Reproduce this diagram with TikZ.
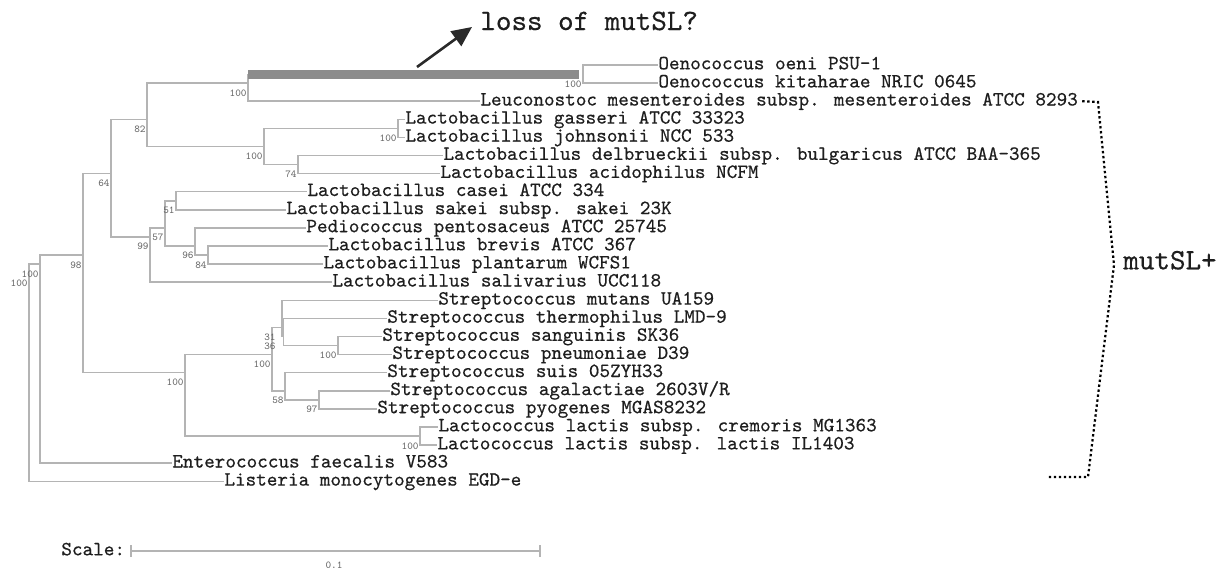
\documentclass[tikz,border=0pt]{standalone}
\usepackage{fontspec}
\newfontfamily\courfont{lmmono10-regular.otf}[FakeBold=0.5]
\usetikzlibrary{arrows.meta}
\definecolor{branch}{HTML}{B4B4B4}
\definecolor{leaftext}{HTML}{1E1E1E}
\definecolor{bootc}{HTML}{6A6A6A}
\definecolor{barc}{HTML}{8C8C8C}
\definecolor{arrowc}{HTML}{2A2A2A}
\tikzset{
  br/.style={draw=branch, line width=0.75pt},
  gbar/.style={draw=barc, line width=4.5pt},
  leaf/.style={anchor=mid west, inner sep=0pt, text=leaftext, font=\courfont\fontsize{10.1}{11}\selectfont},
  boot/.style={anchor=north east, inner sep=0pt, text=bootc, font=\ttfamily\fontsize{5.3}{6}\selectfont},
  bigtxt/.style={inner sep=0pt, text=leaftext, font=\courfont\fontsize{14.8}{16}\selectfont},
  bracketline/.style={draw=black, line width=1.1pt, dash pattern=on 1.2pt off 1.3pt},
}
\begin{document}
\begin{tikzpicture}[x=0.5pt, y=-0.5pt]
\useasboundingbox (0,0) rectangle (1228,568);
% ---------- leaves ----------
\node[leaf] (l0)  at (658,65.0)  {Oenococcus oeni PSU-1};
\node[leaf] (l1)  at (658,83.1)  {Oenococcus kitaharae NRIC 0645};
\node[leaf] (l2)  at (480,101.2) {Leuconostoc mesenteroides subsp. mesenteroides ATCC 8293};
\node[leaf] (l3)  at (405,119.3) {Lactobacillus gasseri ATCC 33323};
\node[leaf] (l4)  at (405,137.4) {Lactobacillus johnsonii NCC 533};
\node[leaf] (l5)  at (443,155.5) {Lactobacillus delbrueckii subsp. bulgaricus ATCC BAA-365};
\node[leaf] (l6)  at (440,173.6) {Lactobacillus acidophilus NCFM};
\node[leaf] (l7)  at (307,191.7) {Lactobacillus casei ATCC 334};
\node[leaf] (l8)  at (286,209.8) {Lactobacillus sakei subsp. sakei 23K};
\node[leaf] (l9)  at (306,227.9) {Pediococcus pentosaceus ATCC 25745};
\node[leaf] (l10) at (328,246.0) {Lactobacillus brevis ATCC 367};
\node[leaf] (l11) at (323,264.1) {Lactobacillus plantarum WCFS1};
\node[leaf] (l12) at (332,282.2) {Lactobacillus salivarius UCC118};
\node[leaf] (l13) at (438,300.3) {Streptococcus mutans UA159};
\node[leaf] (l14) at (387,318.4) {Streptococcus thermophilus LMD-9};
\node[leaf] (l15) at (382,336.5) {Streptococcus sanguinis SK36};
\node[leaf] (l16) at (392,354.6) {Streptococcus pneumoniae D39};
\node[leaf] (l17) at (387,372.7) {Streptococcus suis 05ZYH33};
\node[leaf] (l18) at (390,390.8) {Streptococcus agalactiae 2603V/R};
\node[leaf] (l19) at (377,408.9) {Streptococcus pyogenes MGAS8232};
\node[leaf] (l20) at (438,427.0) {Lactococcus lactis subsp. cremoris MG1363};
\node[leaf] (l21) at (437,445.1) {Lactococcus lactis subsp. lactis IL1403};
\node[leaf] (l22) at (172,463.2) {Enterococcus faecalis V583};
\node[leaf] (l23) at (224,481.3) {Listeria monocytogenes EGD-e};
% ---------- internal nodes ----------
\coordinate (oen) at (583,74.05);
\coordinate (G) at (248,83.1);
\coordinate (I) at (398,128.35);
\coordinate (J) at (298,164.55);
\coordinate (H) at (264,146.45);
\coordinate (E) at (147,119.3);
\coordinate (L) at (176,200.75);
\coordinate (N) at (208,255.05);
\coordinate (M) at (195,246.0);
\coordinate (K) at (165,227.9);
\coordinate (F) at (150,236.95);
\coordinate (C) at (111,173.6);
\coordinate (S) at (338,345.55);
\coordinate (Q2) at (283.5,336.5);
\coordinate (Q1) at (282,327.45);
\coordinate (T) at (319,399.85);
\coordinate (R) at (285,390.8);
\coordinate (O) at (272,354.6);
\coordinate (P) at (420,436.05);
\coordinate (D) at (185,372.7);
\coordinate (B) at (83,255.05);
\coordinate (A) at (40,264.1);
\coordinate (root) at (29,273.15);
% ---------- branches ----------
\draw[br] (oen) |- (l0.mid west);
\draw[br] (oen) |- (l1.mid west);
\draw[br] (G) -- (G |- oen);
\draw[gbar] (G |- oen) -- ([xshift=-2pt]oen);
\draw[br] (G) |- (l2.mid west);
\draw[br] (I) |- (l3.mid west);
\draw[br] (I) |- (l4.mid west);
\draw[br] (J) |- (l5.mid west);
\draw[br] (J) |- (l6.mid west);
\draw[br] (H) |- (I);
\draw[br] (H) |- (J);
\draw[br] (E) |- (G);
\draw[br] (E) |- (H);
\draw[br] (L) |- (l7.mid west);
\draw[br] (L) |- (l8.mid west);
\draw[br] (N) |- (l10.mid west);
\draw[br] (N) |- (l11.mid west);
\draw[br] (M) |- (l9.mid west);
\draw[br] (M) |- (N);
\draw[br] (K) |- (L);
\draw[br] (K) |- (M);
\draw[br] (F) |- (K);
\draw[br] (F) |- (l12.mid west);
\draw[br] (C) |- (E);
\draw[br] (C) |- (F);
\draw[br] (S) |- (l15.mid west);
\draw[br] (S) |- (l16.mid west);
\draw[br] (Q2) |- (l14.mid west);
\draw[br] (Q2) |- (S);
\draw[br] (Q1) |- (l13.mid west);
\draw[br] (Q1) |- (Q2);
\draw[br] (T) |- (l18.mid west);
\draw[br] (T) |- (l19.mid west);
\draw[br] (R) |- (l17.mid west);
\draw[br] (R) |- (T);
\draw[br] (O) |- (Q1);
\draw[br] (O) |- (R);
\draw[br] (P) |- (l20.mid west);
\draw[br] (P) |- (l21.mid west);
\draw[br] (D) |- (O);
\draw[br] (D) |- (P);
\draw[br] (B) |- (C);
\draw[br] (B) |- (D);
\draw[br] (A) |- (B);
\draw[br] (A) |- (l22.mid west);
\draw[br] (root) |- (A);
\draw[br] (root) |- (l23.mid west);
% ---------- bootstrap values ----------
\node[boot] (b-oen) at ([shift={(-1,6)}]oen) {100};
\node[boot] (b-G) at ([shift={(-1,6)}]G) {100};
\node[boot] (b-I) at ([shift={(-1,6)}]I) {100};
\node[boot] (b-J) at ([shift={(-1,6)}]J) {74};
\node[boot] (b-H) at ([shift={(-1,6)}]H) {100};
\node[boot] (b-E) at ([shift={(-1,6)}]E) {82};
\node[boot] (b-C) at ([shift={(-1,6)}]C) {64};
\node[boot] (b-L) at ([shift={(-1,6)}]L) {51};
\node[boot] (b-K) at ([shift={(-1,6)}]K) {57};
\node[boot] (b-F) at ([shift={(-1,6)}]F) {99};
\node[boot] (b-M) at ([shift={(-1,6)}]M) {96};
\node[boot] (b-N) at ([shift={(-1,6)}]N) {84};
\node[boot] (b-Q1) at ([shift={(-6,6)}]Q1) {31};
\node[boot] (b-Q2) at ([shift={(-7.5,6)}]Q2) {36};
\node[boot] (b-S) at ([shift={(-1,6)}]S) {100};
\node[boot] (b-O) at ([shift={(-1,6)}]O) {100};
\node[boot] (b-R) at ([shift={(-1,6)}]R) {58};
\node[boot] (b-T) at ([shift={(-1,6)}]T) {97};
\node[boot] (b-P) at ([shift={(-1,6)}]P) {100};
\node[boot] (b-D) at ([shift={(-1,6)}]D) {100};
\node[boot] (b-B) at ([shift={(-1,6)}]B) {98};
\node[boot] (b-A) at ([shift={(-1,6)}]A) {100};
\node[boot] (b-root) at ([shift={(-1,6)}]root) {100};
% ---------- annotation: loss of mutSL? ----------
\node[bigtxt, anchor=base west] (loss) at (480,30) {loss of mutSL?};
\coordinate (arrStart) at (417,67);
\coordinate (arrTip) at (472,27);
\draw[draw=arrowc, fill=arrowc, line width=1.3pt, -{Triangle[length=10pt,width=9pt]}] (arrStart) -- (arrTip);
% ---------- bracket mutSL+ ----------
\coordinate (brTop) at (1098,102);
\coordinate (brTip) at (1114,265);
\coordinate (brBot) at (1088,477);
\coordinate (brEnd) at (1048,477);
\draw[bracketline] ([xshift=2pt]l2.mid east) -- (brTop) -- (brTip) -- (brBot) -- (brEnd);
\node[bigtxt, anchor=mid west] (mutsl) at (1123,265) {mutSL+};
% ---------- scale ----------
\node[leaf] (scaletxt) at (61,551) {Scale:};
\coordinate (sc0) at (131,551);
\coordinate (sc1) at (540,551);
\draw[br] (sc0) -- (sc1);
\draw[br] ([yshift=-3]sc0) -- ([yshift=3]sc0);
\draw[br] ([yshift=-3]sc1) -- ([yshift=3]sc1);
\node[boot, anchor=center] (scaleval) at (334,565) {0.1};
\end{tikzpicture}
\end{document}
